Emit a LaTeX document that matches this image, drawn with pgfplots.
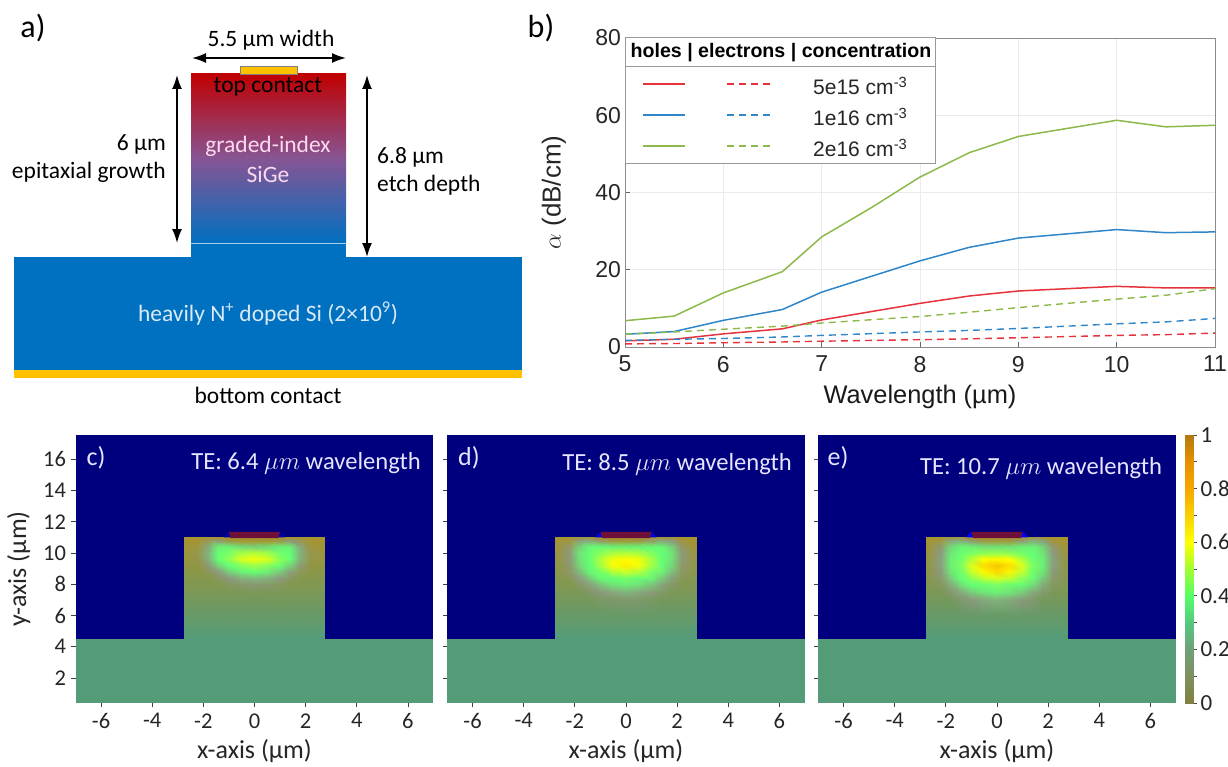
\documentclass[border=0pt]{standalone}
\usepackage{fontspec}
\setmainfont{Carlito}
\newfontfamily\lib{Liberation Sans}
\usepackage{pgfplots}
\pgfplotsset{compat=1.18}
\usetikzlibrary{arrows.meta}
\definecolor{navyf}{HTML}{00007F}
\definecolor{subst}{HTML}{549C78}
\definecolor{cred}{HTML}{E6323C}
\definecolor{cblue}{HTML}{2F86C8}
\definecolor{cgreen}{HTML}{8DB84A}
\definecolor{gold}{HTML}{FFC000}
\definecolor{sibl}{HTML}{0070C0}
\definecolor{topred}{HTML}{C00000}
\definecolor{midpur}{HTML}{875494}
\definecolor{maroon}{HTML}{6E1038}
\tikzset{ta/.style={font=\fontsize{23.5}{27}\selectfont,inner sep=0pt},
  tl/.style={font=\lib\fontsize{21}{24}\selectfont,inner sep=0pt,anchor=base west,text=black!85},
  tz/.style={inner sep=0pt}}
\pgfplotsset{
  colormap={heatbar}{rgb255(0cm)=(128,128,64); rgb255(1cm)=(127,144,96); rgb255(2cm)=(112,160,122); rgb255(3cm)=(85,200,128); rgb255(4cm)=(85,255,102); rgb255(5cm)=(160,255,48); rgb255(6cm)=(255,255,0); rgb255(7cm)=(248,208,0); rgb255(8cm)=(245,168,0); rgb255(9cm)=(232,144,0); rgb255(10cm)=(176,122,16)},
  px/.style={at={(0pt,0pt)},anchor=south west,scale only axis,width=1228pt,height=766pt,xmin=0,xmax=1228,ymin=0,ymax=766,y dir=reverse,hide axis,clip=false},
  fieldcolor/.style={surf,shader=interp,mesh/cols=13,mesh/color input=explicit mathparse,
    point meta={symbolic={
      (1-cb(\thisrow{f}))*((1-ca(\thisrow{f}))*(0.33+0.33*uu(\thisrow{y}))+ca(\thisrow{f})*0.55)+cb(\thisrow{f})*(0.4+0.6*cc(\thisrow{f})-0.05*cd(\thisrow{f})),
      (1-cb(\thisrow{f}))*((1-ca(\thisrow{f}))*(0.61-0.03*uu(\thisrow{y}))+ca(\thisrow{f})*0.6)+cb(\thisrow{f})*(1-0.37*cd(\thisrow{f})),
      (1-cb(\thisrow{f}))*((1-ca(\thisrow{f}))*(0.47-0.29*uu(\thisrow{y}))+ca(\thisrow{f})*0.5)+cb(\thisrow{f})*0.45*(1-cc(\thisrow{f}))
    }}},
  heat/.style={anchor=south west,scale only axis,width=358pt,height=268pt,
    xmin=-7,xmax=7,ymin=0.4,ymax=17.55,
    xtick={-6,-4,-2,0,2,4,6},ytick={2,4,6,8,10,12,14,16},
    axis line style={draw=none},tick align=outside,tickpos=left,
    tick style={color=black!75,line width=0.8pt},major tick length=4pt,
    /pgf/number format/assume math mode=true,
    tick label style={font=\fontsize{22.5}{25}\selectfont,text=black!85},
    x tick label style={yshift=-3pt},y tick label style={xshift=-2pt},
    xlabel={x-axis (µm)},xlabel style={font=\fontsize{26}{29}\selectfont,text=black!85,yshift=-4pt},
    axis on top=false},
}
\newcommand{\bgfill}{%
  \addplot[fill=navyf,draw=none] coordinates {(-7,0.4)(7,0.4)(7,17.55)(-7,17.55)} -- cycle;
  \addplot[fill=subst,draw=none] coordinates {(-7,0.4)(7,0.4)(7,4.5)(-7,4.5)} -- cycle;
}
\newcommand{\contact}[1]{%
  \addplot[fill=#1,draw=none] coordinates {(-1.2,11)(-1.05,11.3)(-0.8,11.3)(-0.9,11)} -- cycle;
  \addplot[fill=#1,draw=none] coordinates {(1.2,11)(1.05,11.3)(0.8,11.3)(0.9,11)} -- cycle;
  \addplot[fill=maroon,draw=none] coordinates {(-0.93,10.95)(-1,11.35)(1,11.35)(0.93,10.95)} -- cycle;
}
\begin{document}
\begin{tikzpicture}[x=1pt,y=1pt,
  declare function={clampf(\x)=min(1,max(0,\x));
    ca(\x)=clampf((\x-0.03)/0.1);
    cb(\x)=clampf((\x-0.13)/0.2);
    cc(\x)=clampf((\x-0.4)/0.2);
    cd(\x)=clampf((\x-0.6)/0.2);
    uu(\x)=clampf((\x-4.5)/6.5);}]
\useasboundingbox (0pt,0pt) rectangle (1228pt,766pt);

% ---------- panel a ----------
\begin{axis}[px]
\addplot[fill=sibl,draw=none] coordinates {(14,257)(522,257)(522,370)(14,370)} -- cycle;
\addplot[fill=sibl,draw=none] coordinates {(191,243)(346,243)(346,258)(191,258)} -- cycle;
\addplot[draw=none,top color=topred,bottom color=sibl,middle color=midpur] coordinates {(191,74)(346,74)(346,243)(191,243)} -- cycle;
\addplot[draw=white!65!sibl,line width=0.8pt] coordinates {(191,243)(346,243)};
\addplot[fill=gold,draw=none] coordinates {(14,370)(522,370)(522,378)(14,378)} -- cycle;
\addplot[fill=gold,draw=black!50,line width=0.6pt] coordinates {(240,74)(240,66)(297,66)(297,74)} -- cycle;
\addplot[black,line width=1.6pt,{Latex[length=14pt,width=10pt]}-{Latex[length=14pt,width=10pt]}] coordinates {(192,58)(346,58)};
\addplot[black,line width=1.6pt,{Latex[length=14pt,width=10pt]}-{Latex[length=14pt,width=10pt]}] coordinates {(177,75)(177,243)};
\addplot[black,line width=1.6pt,{Latex[length=14pt,width=10pt]}-{Latex[length=14pt,width=10pt]}] coordinates {(367,75)(367,257)};
\node[ta] at (axis cs:271,40) {5.5 µm width};
\node[ta] at (axis cs:268,87) {top contact};
\node[ta,anchor=east] at (axis cs:166,144) {6 µm};
\node[ta,anchor=east] at (axis cs:166,172) {epitaxial growth};
\node[ta,anchor=west] at (axis cs:377,157) {6.8 µm};
\node[ta,anchor=west] at (axis cs:377,185) {etch depth};
\node[ta,text=white!85!magenta] at (axis cs:268,146) {graded-index};
\node[ta,text=white!85!magenta] at (axis cs:268,174) {SiGe};
\node[ta,text=white!85!sibl] at (axis cs:268,314) {heavily N\textsuperscript{+} doped Si (2×10\textsuperscript{9})};
\node[ta] at (axis cs:268,395) {bottom contact};
\end{axis}

% ---------- panel b ----------
\begin{axis}[at={(625pt,419pt)},anchor=south west,scale only axis,width=590pt,height=309pt,
  xmin=5,xmax=11,ymin=0,ymax=80,xtick={5,6,7,8,9,10,11},ytick={0,20,40,60,80},
  grid=major,major grid style={black!8,line width=0.7pt},
  axis line style={black!45,line width=0.8pt},tick style={black!60,line width=0.7pt},
  tick align=inside,major tick length=5pt,tickpos=left,
  /pgf/number format/assume math mode=true,
  tick label style={font=\lib\fontsize{23}{25}\selectfont,text=black!85},
  x tick label style={yshift=-5pt},
  xlabel={Wavelength (µm)},xlabel style={font=\lib\fontsize{25.4}{28}\selectfont,text=black!90,yshift=-5pt},
  ylabel={$\alpha$ (dB/cm)},ylabel style={font=\lib\fontsize{26}{29}\selectfont,text=black!85,yshift=22pt},
  line width=1.5pt]
\addplot[cgreen,line width=1.5pt] coordinates {(5,6.8)(5.5,8)(6,14)(6.6,19.5)(7,28.5)(7.5,36)(8,44)(8.5,50.3)(9,54.5)(10,58.7)(10.5,57)(11,57.4)};
\addplot[cblue,line width=1.5pt] coordinates {(5,3.3)(5.5,4)(6,6.9)(6.6,9.7)(7,14.2)(8,22.3)(8.5,25.8)(9,28.2)(10,30.4)(10.5,29.6)(11,29.8)};
\addplot[cred,line width=1.5pt] coordinates {(5,1.6)(5.5,2)(6,3.4)(6.6,4.7)(7,7)(8,11.3)(8.5,13.2)(9,14.5)(10,15.7)(10.5,15.3)(11,15.3)};
\addplot[cgreen,line width=1.4pt,dash pattern=on 7pt off 5pt] coordinates {(5,3.3)(5.5,3.9)(6,4.6)(6.6,5.4)(7,6.2)(8,7.9)(8.5,9)(9,10.2)(10,12.4)(10.5,13.4)(11,15.1)};
\addplot[cblue,line width=1.4pt,dash pattern=on 7pt off 5pt] coordinates {(5,1.7)(5.5,2)(6,2.2)(6.6,2.6)(7,3)(8,3.9)(8.5,4.3)(9,4.8)(10,6)(10.5,6.5)(11,7.4)};
\addplot[cred,line width=1.4pt,dash pattern=on 7pt off 5pt] coordinates {(5,0.8)(5.5,0.9)(6,1.1)(6.6,1.3)(7,1.5)(8,1.9)(8.5,2.1)(9,2.4)(10,3)(10.5,3.2)(11,3.6)};
\end{axis}

% ---------- panel c ----------
\begin{axis}[heat,at={(75.5pt,63pt)},ylabel={y-axis (µm)},ylabel style={font=\fontsize{26}{29}\selectfont,text=black!85,yshift=6pt}]
\bgfill
\addplot[fieldcolor] table[row sep=\\,x=x,y=y] {
x y f\\
-2.75 4.5 0\\ -2.2 4.5 0\\ -1.8 4.5 0\\ -1.4 4.5 0\\ -1 4.5 0\\ -0.5 4.5 0\\ 0 4.5 0\\ 0.5 4.5 0\\ 1 4.5 0\\ 1.4 4.5 0\\ 1.8 4.5 0\\ 2.2 4.5 0\\ 2.75 4.5 0\\
-2.75 6 0\\ -2.2 6 0\\ -1.8 6 0\\ -1.4 6 0\\ -1 6 0\\ -0.5 6 0\\ 0 6 0\\ 0.5 6 0\\ 1 6 0\\ 1.4 6 0\\ 1.8 6 0\\ 2.2 6 0\\ 2.75 6 0\\
-2.75 7 0\\ -2.2 7 0\\ -1.8 7 0\\ -1.4 7 0\\ -1 7 0\\ -0.5 7 0\\ 0 7 0.01\\ 0.5 7 0\\ 1 7 0\\ 1.4 7 0\\ 1.8 7 0\\ 2.2 7 0\\ 2.75 7 0\\
-2.75 7.5 0\\ -2.2 7.5 0\\ -1.8 7.5 0\\ -1.4 7.5 0.01\\ -1 7.5 0.02\\ -0.5 7.5 0.03\\ 0 7.5 0.04\\ 0.5 7.5 0.03\\ 1 7.5 0.02\\ 1.4 7.5 0.01\\ 1.8 7.5 0\\ 2.2 7.5 0\\ 2.75 7.5 0\\
-2.75 8 0\\ -2.2 8 0\\ -1.8 8 0\\ -1.4 8 0.03\\ -1 8 0.06\\ -0.5 8 0.09\\ 0 8 0.10\\ 0.5 8 0.09\\ 1 8 0.06\\ 1.4 8 0.03\\ 1.8 8 0\\ 2.2 8 0\\ 2.75 8 0\\
-2.75 8.4 0\\ -2.2 8.4 0\\ -1.8 8.4 0.02\\ -1.4 8.4 0.07\\ -1 8.4 0.13\\ -0.5 8.4 0.18\\ 0 8.4 0.20\\ 0.5 8.4 0.18\\ 1 8.4 0.13\\ 1.4 8.4 0.07\\ 1.8 8.4 0.02\\ 2.2 8.4 0\\ 2.75 8.4 0\\
-2.75 8.8 0\\ -2.2 8.8 0.01\\ -1.8 8.8 0.06\\ -1.4 8.8 0.14\\ -1 8.8 0.23\\ -0.5 8.8 0.30\\ 0 8.8 0.33\\ 0.5 8.8 0.30\\ 1 8.8 0.23\\ 1.4 8.8 0.14\\ 1.8 8.8 0.06\\ 2.2 8.8 0.01\\ 2.75 8.8 0\\
-2.75 9.2 0\\ -2.2 9.2 0.03\\ -1.8 9.2 0.11\\ -1.4 9.2 0.24\\ -1 9.2 0.36\\ -0.5 9.2 0.44\\ 0 9.2 0.47\\ 0.5 9.2 0.44\\ 1 9.2 0.36\\ 1.4 9.2 0.24\\ 1.8 9.2 0.11\\ 2.2 9.2 0.03\\ 2.75 9.2 0\\
-2.75 9.6 0\\ -2.2 9.6 0.05\\ -1.8 9.6 0.17\\ -1.4 9.6 0.33\\ -1 9.6 0.45\\ -0.5 9.6 0.55\\ 0 9.6 0.58\\ 0.5 9.6 0.55\\ 1 9.6 0.45\\ 1.4 9.6 0.33\\ 1.8 9.6 0.17\\ 2.2 9.6 0.05\\ 2.75 9.6 0\\
-2.75 10 0\\ -2.2 10 0.06\\ -1.8 10 0.18\\ -1.4 10 0.34\\ -1 10 0.42\\ -0.5 10 0.48\\ 0 10 0.50\\ 0.5 10 0.48\\ 1 10 0.42\\ 1.4 10 0.34\\ 1.8 10 0.18\\ 2.2 10 0.06\\ 2.75 10 0\\
-2.75 10.4 0\\ -2.2 10.4 0.05\\ -1.8 10.4 0.16\\ -1.4 10.4 0.30\\ -1 10.4 0.30\\ -0.5 10.4 0.26\\ 0 10.4 0.24\\ 0.5 10.4 0.26\\ 1 10.4 0.30\\ 1.4 10.4 0.30\\ 1.8 10.4 0.16\\ 2.2 10.4 0.05\\ 2.75 10.4 0\\
-2.75 10.8 0\\ -2.2 10.8 0.02\\ -1.8 10.8 0.08\\ -1.4 10.8 0.12\\ -1 10.8 0.06\\ -0.5 10.8 0.03\\ 0 10.8 0.03\\ 0.5 10.8 0.03\\ 1 10.8 0.06\\ 1.4 10.8 0.12\\ 1.8 10.8 0.08\\ 2.2 10.8 0.02\\ 2.75 10.8 0\\
-2.75 11 0\\ -2.2 11 0\\ -1.8 11 0.03\\ -1.4 11 0.02\\ -1 11 0\\ -0.5 11 0\\ 0 11 0\\ 0.5 11 0\\ 1 11 0\\ 1.4 11 0.02\\ 1.8 11 0.03\\ 2.2 11 0\\ 2.75 11 0\\
};
\contact{blue!30!navyf}
\end{axis}

% ---------- panel d ----------
\begin{axis}[heat,at={(447pt,63pt)},yticklabels={}]
\bgfill
\addplot[fieldcolor] table[row sep=\\,x=x,y=y] {
x y f\\
-2.75 4.5 0\\ -2.2 4.5 0\\ -1.8 4.5 0\\ -1.4 4.5 0\\ -1 4.5 0\\ -0.5 4.5 0\\ 0 4.5 0\\ 0.5 4.5 0\\ 1 4.5 0\\ 1.4 4.5 0\\ 1.8 4.5 0\\ 2.2 4.5 0\\ 2.75 4.5 0\\
-2.75 6 0\\ -2.2 6 0\\ -1.8 6 0\\ -1.4 6 0\\ -1 6 0\\ -0.5 6 0\\ 0 6 0\\ 0.5 6 0\\ 1 6 0\\ 1.4 6 0\\ 1.8 6 0\\ 2.2 6 0\\ 2.75 6 0\\
-2.75 7 0\\ -2.2 7 0\\ -1.8 7 0.01\\ -1.4 7 0.03\\ -1 7 0.05\\ -0.5 7 0.07\\ 0 7 0.08\\ 0.5 7 0.07\\ 1 7 0.05\\ 1.4 7 0.03\\ 1.8 7 0.01\\ 2.2 7 0\\ 2.75 7 0\\
-2.75 7.5 0\\ -2.2 7.5 0\\ -1.8 7.5 0.03\\ -1.4 7.5 0.07\\ -1 7.5 0.12\\ -0.5 7.5 0.16\\ 0 7.5 0.18\\ 0.5 7.5 0.16\\ 1 7.5 0.12\\ 1.4 7.5 0.07\\ 1.8 7.5 0.03\\ 2.2 7.5 0\\ 2.75 7.5 0\\
-2.75 8 0\\ -2.2 8 0.02\\ -1.8 8 0.08\\ -1.4 8 0.15\\ -1 8 0.22\\ -0.5 8 0.28\\ 0 8 0.30\\ 0.5 8 0.28\\ 1 8 0.22\\ 1.4 8 0.15\\ 1.8 8 0.08\\ 2.2 8 0.02\\ 2.75 8 0\\
-2.75 8.4 0\\ -2.2 8.4 0.05\\ -1.8 8.4 0.14\\ -1.4 8.4 0.23\\ -1 8.4 0.32\\ -0.5 8.4 0.39\\ 0 8.4 0.42\\ 0.5 8.4 0.39\\ 1 8.4 0.32\\ 1.4 8.4 0.23\\ 1.8 8.4 0.14\\ 2.2 8.4 0.05\\ 2.75 8.4 0\\
-2.75 8.8 0.01\\ -2.2 8.8 0.08\\ -1.8 8.8 0.20\\ -1.4 8.8 0.31\\ -1 8.8 0.42\\ -0.5 8.8 0.50\\ 0 8.8 0.53\\ 0.5 8.8 0.50\\ 1 8.8 0.42\\ 1.4 8.8 0.31\\ 1.8 8.8 0.20\\ 2.2 8.8 0.08\\ 2.75 8.8 0.01\\
-2.75 9.2 0.01\\ -2.2 9.2 0.10\\ -1.8 9.2 0.25\\ -1.4 9.2 0.37\\ -1 9.2 0.48\\ -0.5 9.2 0.59\\ 0 9.2 0.63\\ 0.5 9.2 0.59\\ 1 9.2 0.48\\ 1.4 9.2 0.37\\ 1.8 9.2 0.25\\ 2.2 9.2 0.10\\ 2.75 9.2 0.01\\
-2.75 9.6 0.01\\ -2.2 9.6 0.12\\ -1.8 9.6 0.27\\ -1.4 9.6 0.39\\ -1 9.6 0.49\\ -0.5 9.6 0.58\\ 0 9.6 0.61\\ 0.5 9.6 0.58\\ 1 9.6 0.49\\ 1.4 9.6 0.39\\ 1.8 9.6 0.27\\ 2.2 9.6 0.12\\ 2.75 9.6 0.01\\
-2.75 10 0.01\\ -2.2 10 0.12\\ -1.8 10 0.28\\ -1.4 10 0.38\\ -1 10 0.44\\ -0.5 10 0.49\\ 0 10 0.50\\ 0.5 10 0.49\\ 1 10 0.44\\ 1.4 10 0.38\\ 1.8 10 0.28\\ 2.2 10 0.12\\ 2.75 10 0.01\\
-2.75 10.4 0.01\\ -2.2 10.4 0.10\\ -1.8 10.4 0.24\\ -1.4 10.4 0.32\\ -1 10.4 0.32\\ -0.5 10.4 0.30\\ 0 10.4 0.30\\ 0.5 10.4 0.30\\ 1 10.4 0.32\\ 1.4 10.4 0.32\\ 1.8 10.4 0.24\\ 2.2 10.4 0.10\\ 2.75 10.4 0.01\\
-2.75 10.8 0\\ -2.2 10.8 0.05\\ -1.8 10.8 0.14\\ -1.4 10.8 0.16\\ -1 10.8 0.10\\ -0.5 10.8 0.05\\ 0 10.8 0.04\\ 0.5 10.8 0.05\\ 1 10.8 0.10\\ 1.4 10.8 0.16\\ 1.8 10.8 0.14\\ 2.2 10.8 0.05\\ 2.75 10.8 0\\
-2.75 11 0\\ -2.2 11 0.01\\ -1.8 11 0.05\\ -1.4 11 0.05\\ -1 11 0.02\\ -0.5 11 0\\ 0 11 0\\ 0.5 11 0\\ 1 11 0.02\\ 1.4 11 0.05\\ 1.8 11 0.05\\ 2.2 11 0.01\\ 2.75 11 0\\
};
\contact{blue!70!navyf}
\end{axis}

% ---------- panel e ----------
\begin{axis}[heat,at={(818pt,63pt)},yticklabels={}]
\bgfill
\addplot[fieldcolor] table[row sep=\\,x=x,y=y] {
x y f\\
-2.75 4.5 0\\ -2.2 4.5 0\\ -1.8 4.5 0\\ -1.4 4.5 0\\ -1 4.5 0\\ -0.5 4.5 0\\ 0 4.5 0\\ 0.5 4.5 0\\ 1 4.5 0\\ 1.4 4.5 0\\ 1.8 4.5 0\\ 2.2 4.5 0\\ 2.75 4.5 0\\
-2.75 6 0\\ -2.2 6 0\\ -1.8 6 0\\ -1.4 6 0\\ -1 6 0.01\\ -0.5 6 0.02\\ 0 6 0.02\\ 0.5 6 0.02\\ 1 6 0.01\\ 1.4 6 0\\ 1.8 6 0\\ 2.2 6 0\\ 2.75 6 0\\
-2.75 7 0\\ -2.2 7 0\\ -1.8 7 0.03\\ -1.4 7 0.08\\ -1 7 0.12\\ -0.5 7 0.16\\ 0 7 0.18\\ 0.5 7 0.16\\ 1 7 0.12\\ 1.4 7 0.08\\ 1.8 7 0.03\\ 2.2 7 0\\ 2.75 7 0\\
-2.75 7.5 0\\ -2.2 7.5 0.03\\ -1.8 7.5 0.09\\ -1.4 7.5 0.16\\ -1 7.5 0.23\\ -0.5 7.5 0.28\\ 0 7.5 0.30\\ 0.5 7.5 0.28\\ 1 7.5 0.23\\ 1.4 7.5 0.16\\ 1.8 7.5 0.09\\ 2.2 7.5 0.03\\ 2.75 7.5 0\\
-2.75 8 0\\ -2.2 8 0.06\\ -1.8 8 0.17\\ -1.4 8 0.27\\ -1 8 0.36\\ -0.5 8 0.41\\ 0 8 0.43\\ 0.5 8 0.41\\ 1 8 0.36\\ 1.4 8 0.27\\ 1.8 8 0.17\\ 2.2 8 0.06\\ 2.75 8 0\\
-2.75 8.4 0.01\\ -2.2 8.4 0.10\\ -1.8 8.4 0.23\\ -1.4 8.4 0.35\\ -1 8.4 0.45\\ -0.5 8.4 0.52\\ 0 8.4 0.55\\ 0.5 8.4 0.52\\ 1 8.4 0.45\\ 1.4 8.4 0.35\\ 1.8 8.4 0.23\\ 2.2 8.4 0.10\\ 2.75 8.4 0.01\\
-2.75 8.8 0.01\\ -2.2 8.8 0.12\\ -1.8 8.8 0.28\\ -1.4 8.8 0.41\\ -1 8.8 0.52\\ -0.5 8.8 0.62\\ 0 8.8 0.68\\ 0.5 8.8 0.62\\ 1 8.8 0.52\\ 1.4 8.8 0.41\\ 1.8 8.8 0.28\\ 2.2 8.8 0.12\\ 2.75 8.8 0.01\\
-2.75 9.2 0.01\\ -2.2 9.2 0.14\\ -1.8 9.2 0.30\\ -1.4 9.2 0.43\\ -1 9.2 0.55\\ -0.5 9.2 0.67\\ 0 9.2 0.72\\ 0.5 9.2 0.67\\ 1 9.2 0.55\\ 1.4 9.2 0.43\\ 1.8 9.2 0.30\\ 2.2 9.2 0.14\\ 2.75 9.2 0.01\\
-2.75 9.6 0.01\\ -2.2 9.6 0.14\\ -1.8 9.6 0.30\\ -1.4 9.6 0.41\\ -1 9.6 0.50\\ -0.5 9.6 0.60\\ 0 9.6 0.62\\ 0.5 9.6 0.60\\ 1 9.6 0.50\\ 1.4 9.6 0.41\\ 1.8 9.6 0.30\\ 2.2 9.6 0.14\\ 2.75 9.6 0.01\\
-2.75 10 0.01\\ -2.2 10 0.13\\ -1.8 10 0.28\\ -1.4 10 0.37\\ -1 10 0.42\\ -0.5 10 0.45\\ 0 10 0.46\\ 0.5 10 0.45\\ 1 10 0.42\\ 1.4 10 0.37\\ 1.8 10 0.28\\ 2.2 10 0.13\\ 2.75 10 0.01\\
-2.75 10.4 0.01\\ -2.2 10.4 0.11\\ -1.8 10.4 0.25\\ -1.4 10.4 0.31\\ -1 10.4 0.30\\ -0.5 10.4 0.27\\ 0 10.4 0.27\\ 0.5 10.4 0.27\\ 1 10.4 0.30\\ 1.4 10.4 0.31\\ 1.8 10.4 0.25\\ 2.2 10.4 0.11\\ 2.75 10.4 0.01\\
-2.75 10.8 0\\ -2.2 10.8 0.05\\ -1.8 10.8 0.15\\ -1.4 10.8 0.17\\ -1 10.8 0.11\\ -0.5 10.8 0.05\\ 0 10.8 0.04\\ 0.5 10.8 0.05\\ 1 10.8 0.11\\ 1.4 10.8 0.17\\ 1.8 10.8 0.15\\ 2.2 10.8 0.05\\ 2.75 10.8 0\\
-2.75 11 0\\ -2.2 11 0.01\\ -1.8 11 0.05\\ -1.4 11 0.06\\ -1 11 0.03\\ -0.5 11 0\\ 0 11 0\\ 0.5 11 0\\ 1 11 0.03\\ 1.4 11 0.06\\ 1.8 11 0.05\\ 2.2 11 0.01\\ 2.75 11 0\\
};
\contact{blue}
\end{axis}

% ---------- colour bar ----------
\begin{axis}[at={(1185pt,63pt)},anchor=south west,scale only axis,width=8pt,height=268pt,
  xmin=0,xmax=1,ymin=0,ymax=1,xtick=\empty,ytick={0,0.2,0.4,0.6,0.8,1},minor ytick={0.1,0.3,0.5,0.7,0.9},
  axis line style={draw=none},ytick pos=right,yticklabel pos=right,tick align=outside,
  tick style={black!70,line width=0.8pt},major tick length=4pt,minor tick length=4pt,
  colormap name=heatbar,point meta min=0,point meta max=1,
  /pgf/number format/assume math mode=true,
  tick label style={font=\fontsize{23}{26}\selectfont,text=black!85}]
\addplot[surf,shader=interp,mesh/cols=2,point meta=\thisrow{y}] table[row sep=\\,x=x,y=y] {
x y\\
0 0\\ 1 0\\ 0 0.1\\ 1 0.1\\ 0 0.2\\ 1 0.2\\ 0 0.3\\ 1 0.3\\ 0 0.4\\ 1 0.4\\ 0 0.5\\ 1 0.5\\ 0 0.6\\ 1 0.6\\ 0 0.7\\ 1 0.7\\ 0 0.8\\ 1 0.8\\ 0 0.9\\ 1 0.9\\ 0 1\\ 1 1\\
};
\end{axis}

% ---------- overlay: labels and the legend ----------
\begin{axis}[px]
\addplot[fill=white,draw=black!40,line width=1pt] coordinates {(625,38)(935,38)(935,163)(625,163)} -- cycle;
\addplot[draw=black!40,line width=1pt] coordinates {(625,67)(935,67)};
\addplot[cred,line width=1.5pt] coordinates {(643,84)(685,84)};
\addplot[cblue,line width=1.5pt] coordinates {(643,115)(685,115)};
\addplot[cgreen,line width=1.5pt] coordinates {(643,146)(685,146)};
\addplot[cred,line width=1.4pt,dash pattern=on 7pt off 5pt] coordinates {(727,84)(770,84)};
\addplot[cblue,line width=1.4pt,dash pattern=on 7pt off 5pt] coordinates {(727,115)(770,115)};
\addplot[cgreen,line width=1.4pt,dash pattern=on 7pt off 5pt] coordinates {(727,146)(770,146)};
\node[font=\lib\bfseries\fontsize{19.6}{23}\selectfont,inner sep=0pt] at (axis cs:781,53) {holes | electrons | concentration};
\node[tl] at (axis cs:813,95) {5e15 cm\textsuperscript{-3}};
\node[tl] at (axis cs:813,126) {1e16 cm\textsuperscript{-3}};
\node[tl] at (axis cs:813,157) {2e16 cm\textsuperscript{-3}};
\node[tz,font=\fontsize{32}{36}\selectfont] at (axis cs:33,28) {a)};
\node[tz,font=\fontsize{32}{36}\selectfont] at (axis cs:541,28) {b)};
\node[tz,font=\fontsize{26}{30}\selectfont,text=white!90!blue] at (axis cs:96,458) {c)};
\node[tz,font=\fontsize{26}{30}\selectfont,text=white!90!blue] at (axis cs:469,458) {d)};
\node[tz,font=\fontsize{26}{30}\selectfont,text=white!90!blue] at (axis cs:838,458) {e)};
\node[tz,font=\fontsize{24.6}{28}\selectfont,text=white!90!blue] at (axis cs:306,463) {TE: 6.4 $\mu m$ wavelength};
\node[tz,font=\fontsize{24.6}{28}\selectfont,text=white!90!blue] at (axis cs:677,464) {TE: 8.5 $\mu m$ wavelength};
\node[tz,font=\fontsize{24.6}{28}\selectfont,text=white!90!blue] at (axis cs:1041,468) {TE: 10.7 $\mu m$ wavelength};
\end{axis}
\end{tikzpicture}
\end{document}
